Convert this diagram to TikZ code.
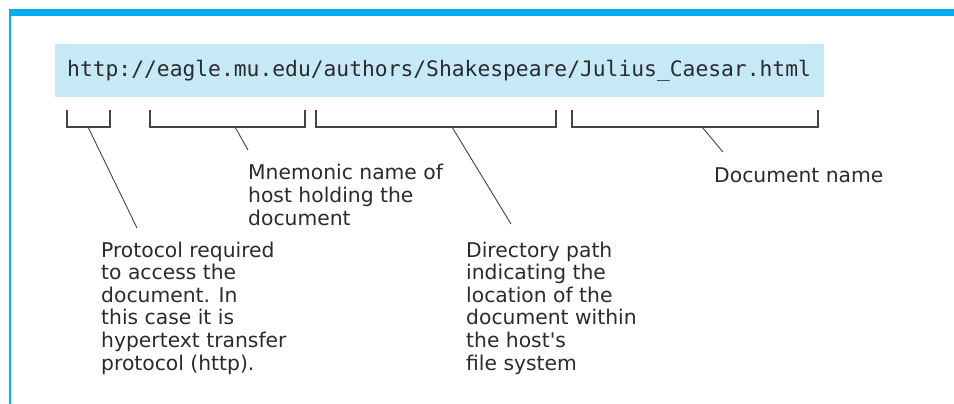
\documentclass[tikz,border=0pt]{standalone}
\usepackage{fontspec}
\setmainfont{DejaVu Sans}
\newfontfamily\urlmono{DejaVu Sans Mono}
\definecolor{barblue}{HTML}{00AEEF}
\definecolor{urlbg}{HTML}{C6E9F8}
\definecolor{inkgray}{HTML}{2B2B2B}
\definecolor{linegray}{HTML}{444444}
\begin{document}
\begin{tikzpicture}[x=1pt,y=-1pt,
  label/.style={anchor=base west,inner sep=0pt,align=left,text=inkgray,
    font=\fontsize{20.3}{22.6}\selectfont},
  bracket/.style={draw=linegray,line width=1.3pt},
  leader/.style={draw=linegray,line width=0.9pt}]
\useasboundingbox (0,0) rectangle (954,404);
\fill[white] (0,0) rectangle (954,404);
% frame
\fill[barblue] (9,9) rectangle (954,16.5);
\fill[barblue] (9,16) rectangle (10.5,404);
% url box
\node[fill=urlbg,minimum width=769pt,minimum height=53pt,inner sep=0pt,anchor=north west] (urlbox) at (55,44) {};
\node[anchor=base west,inner sep=0pt,text=inkgray,font=\urlmono\fontsize{21.3}{24}\selectfont] (url) at (67,77)
  {http://eagle.mu.edu/authors/Shakespeare/Julius\_Caesar.html};
% brackets
\draw[bracket] (67,110) -- (67,127) -- (110,127) -- (110,110);
\draw[bracket] (150,110) -- (150,127) -- (305,127) -- (305,110);
\draw[bracket] (316,110) -- (316,127) -- (556,127) -- (556,110);
\draw[bracket] (572,110) -- (572,127) -- (818,127) -- (818,110);
\coordinate (b1) at (88,127);
\coordinate (b2) at (235,127);
\coordinate (b3) at (452,127);
\coordinate (b4) at (702,127);
% labels (anchor at baseline of last line)
\node[label] (proto) at (101,370) {Protocol required\\to access the\\document. In\\this case it is\\hypertext transfer\\protocol (http).};
\node[label] (host) at (248,225) {Mnemonic name of\\host holding the\\document};
\node[label] (dir) at (466,370) {Directory path\\indicating the\\location of the\\document within\\the host\textquotesingle s\\file system};
\node[label] (doc) at (714,182) {Document name};
\coordinate (e1) at (137,228);
\coordinate (e2) at (248,150);
\coordinate (e3) at (511,224);
\coordinate (e4) at (723,152);
\draw[leader] (b1) -- (e1);
\draw[leader] (b2) -- (e2);
\draw[leader] (b3) -- (e3);
\draw[leader] (b4) -- (e4);
\end{tikzpicture}
\end{document}
